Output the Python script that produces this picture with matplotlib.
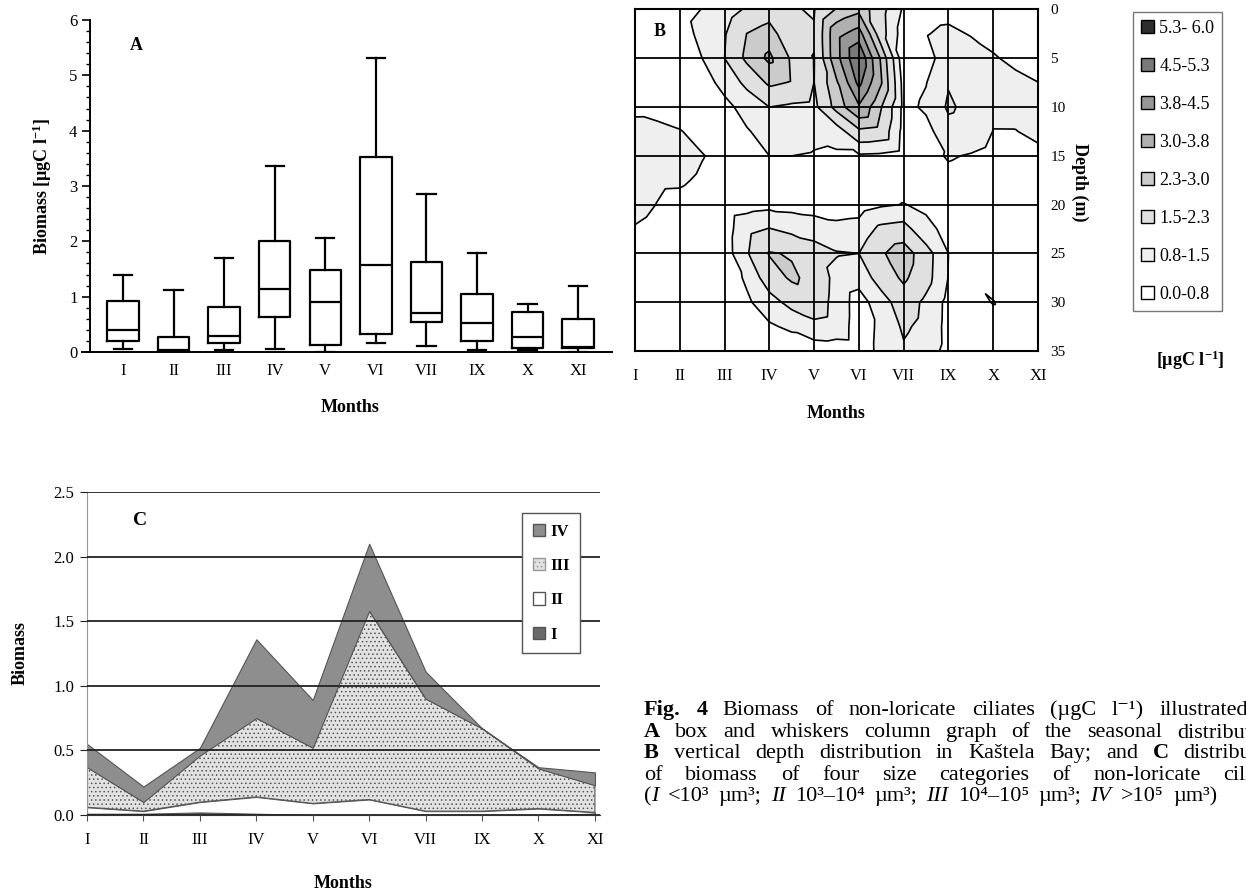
import numpy as np
import matplotlib
matplotlib.use("Agg")
import matplotlib.pyplot as plt
import matplotlib.tri as mtri
from matplotlib.patches import Patch
from matplotlib.ticker import MultipleLocator

W, H = 1246, 896

plt.rcParams['font.family'] = ['Liberation Serif', 'DejaVu Serif']
plt.rcParams['mathtext.fontset'] = 'custom'
plt.rcParams['mathtext.rm'] = 'Liberation Serif'
plt.rcParams['mathtext.it'] = 'Liberation Serif:italic'
plt.rcParams['mathtext.bf'] = 'Liberation Serif:bold'
plt.rcParams['hatch.color'] = '#9a9a9a'
plt.rcParams['hatch.linewidth'] = 0.6

months = ['I', 'II', 'III', 'IV', 'V', 'VI', 'VII', 'IX', 'X', 'XI']

# A - box and whiskers
a_whislo = [0.05, 0.00, 0.03, 0.05, 0.00, 0.17, 0.11, 0.03, 0.03, 0.00]
a_q1 = [0.20, 0.01, 0.16, 0.64, 0.12, 0.32, 0.55, 0.20, 0.08, 0.07]
a_med = [0.40, 0.03, 0.29, 1.13, 0.91, 1.57, 0.71, 0.52, 0.28, 0.09]
a_q3 = [0.92, 0.28, 0.81, 2.01, 1.48, 3.53, 1.63, 1.04, 0.72, 0.60]
a_whishi = [1.40, 1.12, 1.70, 3.37, 2.06, 5.32, 2.85, 1.79, 0.86, 1.19]

# B - biomass by depth (rows) and month (columns)
depths = [0, 5, 10, 15, 20, 25, 30, 35]
b_grid = [
    [0.3, 0.6, 1.1, 1.9, 1.45, 2.8, 0.7, 0.6, 0.4, 0.3],
    [0.4, 0.3, 1.5, 3.15, 1.48, 5.2, 0.3, 1.2, 0.85, 0.5],
    [0.7, 0.5, 0.6, 1.5, 1.3, 3.7, 0.6, 1.6, 0.9, 1.0],
    [1.1, 1.1, 0.6, 0.8, 0.75, 0.7, 0.5, 0.85, 0.6, 0.7],
    [1.0, 0.6, 0.4, 0.6, 0.5, 0.5, 0.82, 0.55, 0.3, 0.3],
    [0.5, 0.3, 0.45, 2.35, 1.85, 1.5, 2.7, 0.8, 0.3, 0.3],
    [0.3, 0.3, 0.3, 1.2, 2.0, 0.5, 1.9, 0.6, 0.82, 0.3],
    [0.3, 0.3, 0.3, 0.3, 0.4, 0.5, 1.4, 0.6, 0.3, 0.3],
]
b_levels = [0.0, 0.8, 1.5, 2.3, 3.0, 3.8, 4.5, 5.3, 6.0]
b_labels = ['0.0-0.8', '0.8-1.5', '1.5-2.3', '2.3-3.0', '3.0-3.8', '3.8-4.5', '4.5-5.3', '5.3- 6.0']
b_colors = ['white', '#efefef', '#e0e0e0', '#cbcbcb', '#b0b0b0', '#969696', '#7a7a7a', '#2e2e2e']

# C - size categories
c_I = [0.01, 0.01, 0.02, 0.01, 0.00, 0.00, 0.00, 0.00, 0.00, 0.01]
c_II = [0.05, 0.02, 0.08, 0.13, 0.09, 0.12, 0.03, 0.03, 0.05, 0.01]
c_III = [0.31, 0.07, 0.36, 0.61, 0.43, 1.46, 0.87, 0.64, 0.31, 0.21]
c_IV = [0.18, 0.12, 0.06, 0.61, 0.37, 0.52, 0.21, 0.00, 0.01, 0.10]

fig = plt.figure(figsize=(W / 100, H / 100), dpi=100)


def px_axes(left, top, right, bottom):
    return fig.add_axes([left / W, 1 - bottom / H, (right - left) / W, (bottom - top) / H])


def ftext(x, y, s, **kw):
    return fig.text(x / W, 1 - y / H, s, **kw)


# ---------------- panel A
axA = px_axes(82, 20, 612, 352)
stats = []
for i in range(len(months)):
    stats.append(dict(whislo=a_whislo[i], q1=a_q1[i], med=a_med[i],
                      q3=a_q3[i], whishi=a_whishi[i]))
line = dict(color='black', linewidth=1.6)
axA.bxp(stats, positions=np.arange(1, 11), widths=0.62, capwidths=0.36,
        showfliers=False, boxprops=line, whiskerprops=line, capprops=line,
        medianprops=line)
axA.set_xlim(0.19, 10.67)
axA.set_ylim(0, 6)
axA.set_xticks(np.arange(1, 11))
axA.set_xticklabels(months)
axA.set_yticks(range(7))
axA.yaxis.set_minor_locator(MultipleLocator(0.2))
for s in ['top', 'right']:
    axA.spines[s].set_visible(False)
axA.spines['left'].set_position(('data', 0.348))
axA.spines['left'].set_linewidth(1.4)
axA.spines['bottom'].set_linewidth(1.4)
axA.tick_params(axis='y', which='major', length=6, width=1.2, labelsize=12, pad=3)
axA.tick_params(axis='y', which='minor', length=3, width=1.0)
axA.tick_params(axis='x', length=0, labelsize=12, pad=8)
axA.patch.set_alpha(0)
ftext(136, 45, 'A', fontsize=13, fontweight='bold', ha='center', va='center')
ftext(42, 186, r'Biomass [µgC l$^{\mathbf{-1}}$]', fontsize=13, fontweight='bold',
      rotation=90, ha='center', va='center')
ftext(350, 407, 'Months', fontsize=13, fontweight='bold', ha='center', va='center')

# ---------------- panel B
axB = px_axes(635, 9.5, 1038, 351)
zb = np.array(b_grid)
ncol, nrow = len(months), len(depths)
gx, gy = np.meshgrid(np.arange(ncol, dtype=float), np.arange(nrow, dtype=float))
tris = []
for r in range(nrow - 1):
    for c in range(ncol - 1):
        p = r * ncol + c
        tris.append([p, p + 1, p + ncol + 1])
        tris.append([p, p + ncol + 1, p + ncol])
tri = mtri.Triangulation(gx.ravel(), gy.ravel(), np.array(tris))
interp = mtri.CubicTriInterpolator(tri, zb.ravel(), kind='geom')
tri_f, z_f = mtri.UniformTriRefiner(tri).refine_field(zb.ravel(), triinterpolator=interp, subdiv=1)
tri_d = mtri.Triangulation(tri_f.x, tri_f.y * 5, tri_f.triangles)
axB.tricontourf(tri_d, z_f, levels=b_levels, colors=b_colors, extend='neither')
axB.tricontour(tri_d, z_f, levels=b_levels[1:-1], colors='black', linewidths=1.2)
axB.set_xlim(0, 9)
axB.set_ylim(35, 0)
axB.set_xticks(np.arange(ncol))
axB.set_xticklabels(months)
axB.set_yticks(depths)
axB.yaxis.tick_right()
axB.grid(True, color='black', linewidth=1.3)
axB.set_axisbelow(False)
axB.tick_params(axis='x', length=0, labelsize=12, pad=12)
axB.tick_params(axis='y', length=0, labelsize=11, pad=9)
for s in axB.spines.values():
    s.set_linewidth(1.5)
ftext(660, 32, 'B', fontsize=13, fontweight='bold', ha='center', va='center')
ftext(1080, 182, 'Depth (m)', fontsize=13, fontweight='bold', rotation=270,
      ha='center', va='center')
ftext(836, 413, 'Months', fontsize=13, fontweight='bold', ha='center', va='center')

handles = [Patch(facecolor=c, edgecolor='black', linewidth=1.0) for c in b_colors][::-1]
legB = fig.legend(handles, b_labels[::-1], loc='upper left',
                  bbox_to_anchor=(1133 / W, 1 - 12 / H), fontsize=13,
                  frameon=True, fancybox=False, edgecolor='#555555',
                  handlelength=0.7, handleheight=0.7, handletextpad=0.3,
                  labelspacing=1.16, borderpad=0.45, borderaxespad=0)
legB.get_frame().set_linewidth(1.0)
ftext(1190, 360, r'[µgC l$^{\mathbf{-1}}$]', fontsize=13, fontweight='bold',
      ha='center', va='center')

# ---------------- panel C
axC = px_axes(87, 492, 600, 815)
xc = np.arange(len(months))
polys = axC.stackplot(xc, c_I, c_II, c_III, c_IV,
                      colors=['#6a6a6a', 'white', '#e2e2e2', '#8e8e8e'],
                      edgecolor='#555555', linewidth=0.8)
polys[2].set_hatch('....')
axC.set_xlim(0, 9.09)
axC.set_ylim(0, 2.5)
axC.set_xticks(xc)
axC.set_xticklabels(months)
axC.set_yticks(np.arange(0, 2.51, 0.5))
axC.set_yticklabels(['%.1f' % v for v in np.arange(0, 2.51, 0.5)])
axC.grid(True, axis='y', color='#222222', linewidth=1.3)
axC.set_axisbelow(False)
for s in ['top', 'right']:
    axC.spines[s].set_visible(False)
axC.spines['left'].set_color('#999999')
axC.spines['bottom'].set_color('#333333')
axC.tick_params(axis='y', length=5, color='#222222', labelsize=12, pad=4)
axC.tick_params(axis='x', length=4, color='#555555', labelsize=12, pad=8)
ftext(140, 520, 'C', fontsize=14, fontweight='bold', ha='center', va='center')
ftext(20, 653, 'Biomass', fontsize=13, fontweight='bold', rotation=90,
      ha='center', va='center')
ftext(343, 883, 'Months', fontsize=13, fontweight='bold', ha='center', va='center')

hC = [Patch(facecolor='#8e8e8e', edgecolor='#555555'),
      Patch(facecolor='#e2e2e2', edgecolor='#999999', hatch='....'),
      Patch(facecolor='white', edgecolor='#555555'),
      Patch(facecolor='#6a6a6a', edgecolor='#555555')]
legC = axC.legend(hC, ['IV', 'III', 'II', 'I'], loc='upper left',
                  bbox_to_anchor=(522 / W, 1 - 513 / H),
                  bbox_transform=fig.transFigure, frameon=True, fancybox=False,
                  edgecolor='#555555', framealpha=1,
                  prop=dict(weight='bold', size=12), handlelength=0.75,
                  handleheight=0.75, handletextpad=0.3, labelspacing=1.1,
                  borderpad=0.64, borderaxespad=0)

# ---------------- caption (justified lines, runs past the right edge as in the scan)
cap_size = 16
renderer = fig.canvas.get_renderer()


def caption_line(pieces, y, x0, x1=None):
    texts = []
    for p in pieces:
        s, kind = p[0], p[1]
        kw = dict(fontsize=cap_size, va='baseline', ha='left')
        if kind == 'b':
            kw['fontweight'] = 'bold'
        elif kind == 'i':
            kw['fontstyle'] = 'italic'
        texts.append(ftext(0, y, s, **kw))
    widths = [t.get_window_extent(renderer).width for t in texts]
    glue = [len(p) > 2 and p[2] for p in pieces]
    n_gaps = sum(1 for g in glue[1:] if not g)
    if x1 is None:
        gap = 0.27 * cap_size * 100 / 72
    else:
        gap = (x1 - x0 - sum(widths)) / n_gaps
    x = x0
    for k, t in enumerate(texts):
        if k > 0 and not glue[k]:
            x += gap
        t.set_x(x / W)
        x += widths[k]


def words(s):
    return [(w, 'n') for w in s.split()]


cx0, cx1 = 644, 1286
caption_line([('Fig.', 'b'), ('4', 'b')] + words('Biomass of non-loricate ciliates (µgC l⁻¹) illustrated by:'),
             715, cx0, 1292)
caption_line([('A', 'b')] + words('box and whiskers column graph of the seasonal distribution;'),
             737, cx0, cx1)
caption_line([('B', 'b')] + words('vertical depth distribution in Kaštela Bay; and')
             + [('C', 'b'), ('distribution', 'n')], 758, cx0, cx1)
caption_line(words('of biomass of four size categories of non-loricate ciliates'),
             780, cx0, cx1)
caption_line([('(', 'n'), ('I', 'i', True), ('<10³', 'n'), ('µm³;', 'n'),
              ('II', 'i'), ('10³–10⁴', 'n'), ('µm³;', 'n'),
              ('III', 'i'), ('10⁴–10⁵', 'n'), ('µm³;', 'n'),
              ('IV', 'i'), ('>10⁵', 'n'), ('µm³)', 'n')], 801, cx0, 1217)

fig.savefig('out.png', dpi=100)
